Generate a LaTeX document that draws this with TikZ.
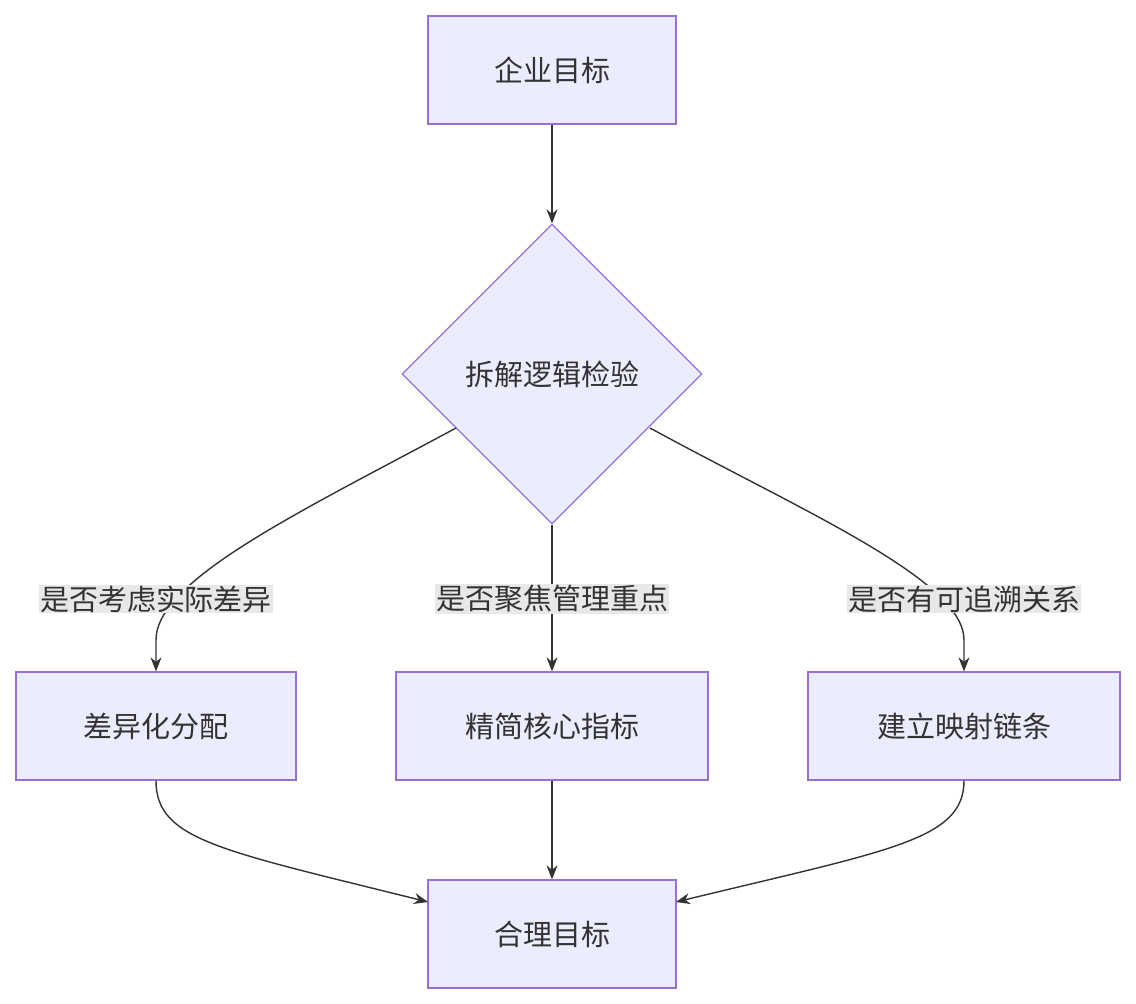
\documentclass[tikz,border=0pt]{standalone}
\usepackage{fontspec}
\setmainfont{Noto Sans CJK SC}
\usetikzlibrary{shapes.geometric,arrows.meta}
\definecolor{nfill}{HTML}{ECECFF}
\definecolor{nline}{HTML}{9370DB}
\definecolor{txt}{HTML}{333333}
\definecolor{lbg}{HTML}{E8E8E8}
\begin{document}
\begin{tikzpicture}[x=1pt,y=-1pt,
  box/.style={draw=nline,fill=nfill,line width=1.3pt,minimum height=108pt,text=txt,font=\fontsize{29}{34}\selectfont,inner sep=0pt},
  dia/.style={draw=nline,fill=nfill,line width=1.3pt,diamond,minimum width=300pt,minimum height=300pt,inner sep=0pt,text=txt,font=\fontsize{29}{34}\selectfont},
  lab/.style={fill=lbg,text=txt,font=\fontsize{29}{34}\selectfont,inner sep=1pt},
  arr/.style={draw=txt,line width=1.4pt,-{Stealth[length=14pt,width=11pt]}}]
\useasboundingbox (0,0) rectangle (1136,1004);
\node[box,minimum width=248pt] (a) at (552,70) {企业目标};
\node[dia] (d) at (552,374) {拆解逻辑检验};
\node[box,minimum width=280pt] (l) at (156,726) {差异化分配};
\node[box,minimum width=312pt] (m) at (552,726) {精简核心指标};
\node[box,minimum width=312pt] (r) at (964,726) {建立映射链条};
\node[box,minimum width=248pt] (b) at (552,934) {合理目标};
\coordinate (dl) at (456,428);
\coordinate (dr) at (650,428);
\coordinate (bl) at (428,902);
\coordinate (br) at (676,902);
\draw[arr] (a) -- (d);
\draw[arr] (dl) .. controls (300,512) and (156,580) .. (156,640) -- (l.north);
\draw[arr] (d) -- (m);
\draw[arr] (dr) .. controls (804,512) and (964,580) .. (964,640) -- (r.north);
\node[lab] (ll) at (156,599) {是否考虑实际差异};
\node[lab] (ml) at (552,599) {是否聚焦管理重点};
\node[lab] (rl) at (964,599) {是否有可追溯关系};
\draw[arr] (l.south) .. controls (156,840) and (220,850) .. (bl);
\draw[arr] (m) -- (b);
\draw[arr] (r.south) .. controls (964,840) and (890,850) .. (br);
\end{tikzpicture}
\end{document}
